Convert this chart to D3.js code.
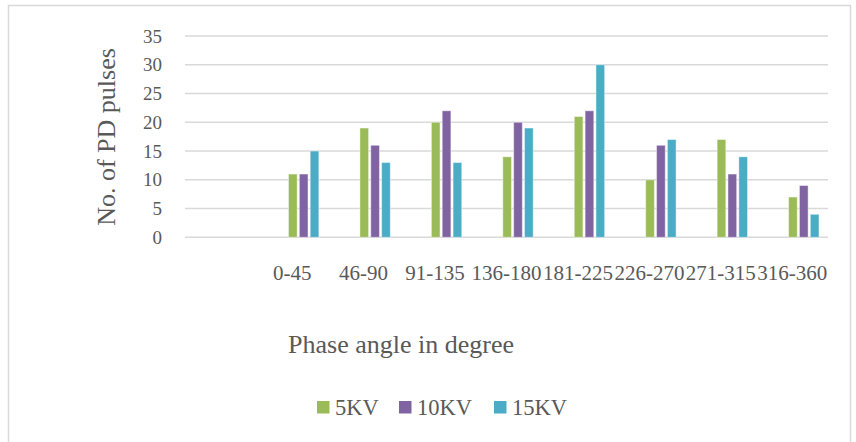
<!DOCTYPE html>
<html>
<head>
<meta charset="utf-8">
<script src="https://cdn.jsdelivr.net/npm/d3@7"></script>
<style>
  html, body { margin: 0; padding: 0; background: #fff; }
  svg text { font-family: "Liberation Serif", "Times New Roman", serif; fill: #595959; }
</style>
</head>
<body>
<svg id="chart" width="856" height="442"></svg>
<script>
// Phase-angle bins (the leading slot is left empty on the axis)
const categories = ["", "0-45", "46-90", "91-135", "136-180", "181-225", "226-270", "271-315", "316-360"];
const series = ["5KV", "10KV", "15KV"];
const values5KV  = [null, 11, 19, 20, 14, 21, 10, 17, 7];
const values10KV = [null, 11, 16, 22, 20, 22, 16, 11, 9];
const values15KV = [null, 15, 13, 13, 19, 30, 17, 14, 4];
const yTicks = [0, 5, 10, 15, 20, 25, 30, 35];
const colors = ["#9BBB59", "#8064A2", "#4BACC6"];

const seriesValues = [values5KV, values10KV, values15KV];

const svg = d3.select("#chart");

// outer frame
svg.append("rect")
  .attr("x", 8.5).attr("y", 5.5)
  .attr("width", 842).attr("height", 445)
  .attr("fill", "none").attr("stroke", "#d9d9d9").attr("stroke-width", 1.5);

const plot = { left: 185, right: 828, top: 36, bottom: 237.3 };

const x0 = d3.scaleBand().domain(categories).range([plot.left, plot.right]);
const bw = x0.bandwidth();
const x1 = d3.scaleBand().domain(series)
  .range([bw / 2 - 3.7, bw / 2 + 26.7]).paddingInner(0.2);
const y = d3.scaleLinear().domain([0, 35]).range([plot.bottom, plot.top]);

// gridlines
svg.append("g").selectAll("line").data(yTicks).join("line")
  .attr("x1", plot.left).attr("x2", plot.right)
  .attr("y1", d => y(d)).attr("y2", d => y(d))
  .attr("stroke", "#d9d9d9").attr("stroke-width", 1.5);

// y axis labels
const yAxis = svg.append("g")
  .attr("transform", `translate(${plot.left - 23},0)`)
  .call(d3.axisLeft(y).tickValues(yTicks).tickSize(0).tickPadding(0));
yAxis.select(".domain").remove();
yAxis.selectAll("text")
  .attr("font-size", 19).attr("fill", "#595959")
  .style("font-family", "'Liberation Serif', serif");

// x axis labels
const xAxis = svg.append("g")
  .attr("transform", `translate(0,${plot.bottom + 28})`)
  .call(d3.axisBottom(x0).tickSize(0).tickPadding(0));
xAxis.select(".domain").remove();
xAxis.selectAll("text")
  .attr("font-size", 21).attr("fill", "#595959")
  .style("font-family", "'Liberation Serif', serif");

// bars
const rows = categories.map((c, i) => ({ cat: c, vals: series.map((s, k) => ({ s, k, v: seriesValues[k][i] })) }));
const groups = svg.append("g").selectAll("g").data(rows).join("g")
  .attr("transform", d => `translate(${x0(d.cat)},0)`);
groups.selectAll("rect").data(d => d.vals.filter(v => v.v != null)).join("rect")
  .attr("x", d => x1(d.s))
  .attr("width", x1.bandwidth())
  .attr("y", d => y(d.v))
  .attr("height", d => y(0) - y(d.v))
  .attr("fill", d => colors[d.k])
  .attr("stroke", "rgba(255,255,255,0.45)")
  .attr("stroke-width", 1);

// axis titles
svg.append("text")
  .attr("transform", "translate(106,137) rotate(-90)")
  .attr("text-anchor", "middle").attr("dominant-baseline", "central")
  .attr("font-size", 26)
  .text("No. of PD pulses");

svg.append("text")
  .attr("x", 401).attr("y", 353)
  .attr("text-anchor", "middle")
  .attr("font-size", 26)
  .text("Phase angle in degree");

// legend
const legendX = [317, 399, 494];
const legend = svg.append("g").selectAll("g").data(series).join("g")
  .attr("transform", (d, i) => `translate(${legendX[i]},401)`);
legend.append("rect")
  .attr("width", 12.5).attr("height", 12.5)
  .attr("fill", (d, i) => colors[i]);
legend.append("text")
  .attr("x", 18).attr("y", 14)
  .attr("font-size", 22.5)
  .text(d => d);
</script>
</body>
</html>
